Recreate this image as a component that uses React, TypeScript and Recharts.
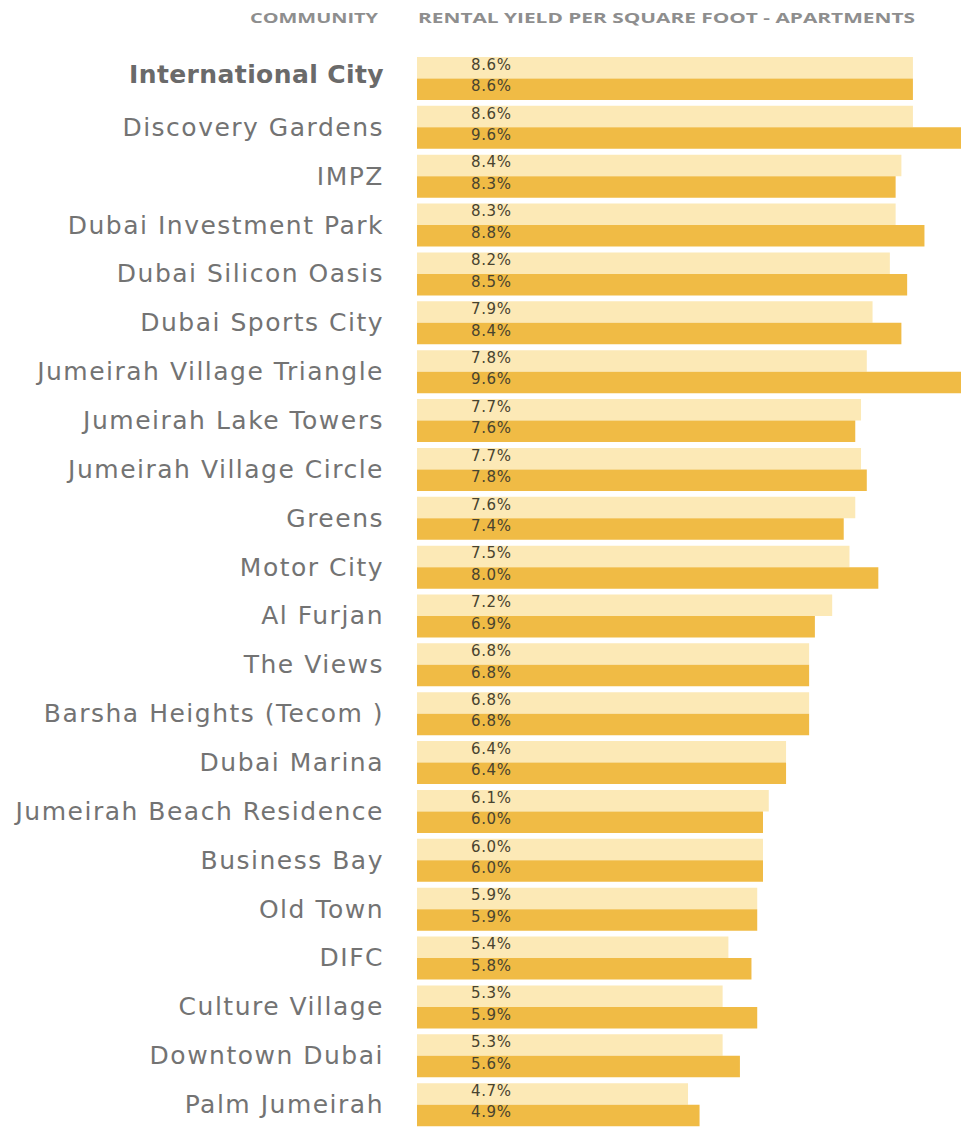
import React from "react"
import { BarChart, Bar, XAxis, YAxis, LabelList } from "recharts"

const communities = [
  "International City",
  "Discovery Gardens",
  "IMPZ",
  "Dubai Investment Park",
  "Dubai Silicon Oasis",
  "Dubai Sports City",
  "Jumeirah Village Triangle",
  "Jumeirah Lake Towers",
  "Jumeirah Village Circle",
  "Greens",
  "Motor City",
  "Al Furjan",
  "The Views",
  "Barsha Heights (Tecom )",
  "Dubai Marina",
  "Jumeirah Beach Residence",
  "Business Bay",
  "Old Town",
  "DIFC",
  "Culture Village",
  "Downtown Dubai",
  "Palm Jumeirah",
]

// light bars (upper) and dark bars (lower), % yield
const yieldLight = [8.6, 8.6, 8.4, 8.3, 8.2, 7.9, 7.8, 7.7, 7.7, 7.6, 7.5, 7.2, 6.8, 6.8, 6.4, 6.1, 6.0, 5.9, 5.4, 5.3, 5.3, 4.7]
const yieldDark = [8.6, 9.6, 8.3, 8.8, 8.5, 8.4, 9.6, 7.6, 7.8, 7.4, 8.0, 6.9, 6.8, 6.8, 6.4, 6.0, 6.0, 5.9, 5.8, 5.9, 5.6, 4.9]

const LIGHT = "#fce9b6"
const DARK = "#f0bb45"
const LABEL_GRAY = "#737373"
const HEADER_GRAY = "#8e8e8e"

const data = communities.map((name, i) => ({
  name,
  light: yieldLight[i],
  dark: yieldDark[i],
}))

const CategoryTick = (props: any) => {
  const { y, payload } = props
  const first = payload.value === communities[0]
  return (
    <text
      x={384}
      y={first ? y - 4 : y}
      textAnchor="end"
      dominantBaseline="central"
      fontFamily="'DejaVu Sans', sans-serif"
      fontSize={25}
      letterSpacing={first ? 0.4 : 1.5}
      fontWeight={first ? 700 : 400}
      fill={first ? "#6a6a6a" : LABEL_GRAY}
    >
      {payload.value}
    </text>
  )
}

const ValueLabel = (props: any) => {
  const { x, y, height, value } = props
  return (
    <text
      x={x + 54}
      y={y + height / 2 - 3}
      dominantBaseline="central"
      fontFamily="'DejaVu Sans', sans-serif"
      fontSize={15}
      letterSpacing={0.6}
      fill="#48432f"
    >
      {Number(value).toFixed(1)}%
    </text>
  )
}

export default function App() {
  return (
    <div
      style={{
        position: "absolute",
        left: 0,
        top: 0,
        width: 961,
        height: 1128,
        overflow: "hidden",
        background: "#ffffff",
      }}
    >
      <svg width={961} height={40} style={{ position: "absolute", left: 0, top: 0 }}>
        <text
          x={250}
          y={23}
          textLength={128}
          lengthAdjust="spacingAndGlyphs"
          fontFamily="'Open Sans', sans-serif"
          fontWeight={700}
          fontSize={15}
          fill={HEADER_GRAY}
        >
          COMMUNITY
        </text>
        <text
          x={418}
          y={23}
          textLength={497}
          lengthAdjust="spacingAndGlyphs"
          fontFamily="'Open Sans', sans-serif"
          fontWeight={700}
          fontSize={15}
          fill={HEADER_GRAY}
        >
          RENTAL YIELD PER SQUARE FOOT - APARTMENTS
        </text>
      </svg>
      <BarChart
        width={1000}
        height={1140}
        data={data}
        layout="vertical"
        margin={{ top: 54, right: 0, bottom: 11, left: 0 }}
        barGap={0}
        barSize={21.5}
      >
        <XAxis type="number" hide domain={[0, 10.11]} allowDataOverflow />
        <YAxis
          type="category"
          dataKey="name"
          width={417}
          axisLine={false}
          tickLine={false}
          interval={0}
          tick={<CategoryTick />}
        />
        <Bar dataKey="light" fill={LIGHT} isAnimationActive={false}>
          <LabelList dataKey="light" content={<ValueLabel />} />
        </Bar>
        <Bar dataKey="dark" fill={DARK} isAnimationActive={false}>
          <LabelList dataKey="dark" content={<ValueLabel />} />
        </Bar>
      </BarChart>
    </div>
  )
}
